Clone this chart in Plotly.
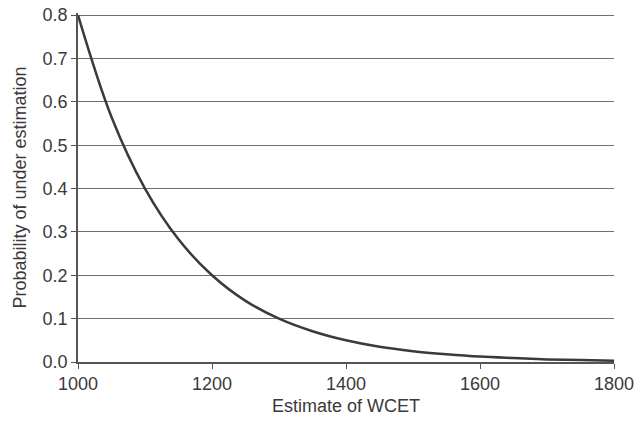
import plotly.graph_objects as go

wcet = [1000, 1050, 1100, 1150, 1200, 1250, 1300, 1350, 1400, 1450, 1500,
        1550, 1600, 1650, 1700, 1750, 1800]
prob = [0.8, 0.565, 0.4, 0.283, 0.2, 0.141, 0.1, 0.071, 0.05, 0.035, 0.025,
        0.018, 0.0125, 0.009, 0.006, 0.0045, 0.003]

x_ticks = [1000, 1200, 1400, 1600, 1800]
y_ticks = [0.0, 0.1, 0.2, 0.3, 0.4, 0.5, 0.6, 0.7, 0.8]

fig = go.Figure()
fig.add_trace(go.Scatter(x=wcet, y=prob, mode="lines",
                         line=dict(color="#3a3a3a", width=2.5, shape="spline"),
                         showlegend=False, cliponaxis=False))

font = dict(family="Liberation Sans, Arial, sans-serif", size=18, color="#3a3a3a")
fig.update_layout(
    width=644, height=427,
    margin=dict(l=78, r=30, t=13, b=65, autoexpand=False),
    paper_bgcolor="white", plot_bgcolor="white",
    font=font,
    xaxis=dict(range=[1000, 1800], tickvals=x_ticks, showgrid=False,
               showline=True, linecolor="#555555", linewidth=1.5,
               ticks="outside", ticklen=5, tickcolor="#555555",
               title=dict(text="Estimate of WCET", font=font, standoff=6),
               zeroline=False, automargin=False),
    yaxis=dict(range=[0, 0.805], tickvals=y_ticks, tickformat=".1f",
               showgrid=True, gridcolor="#707070", gridwidth=1,
               showline=True, linecolor="#555555", linewidth=1.5,
               ticks="outside", ticklen=5, tickcolor="#555555",
               title=dict(text="Probability of under estimation", font=font, standoff=11),
               zeroline=False, automargin=False),
)
fig.write_html("out.html", config={"displayModeBar": False},
               post_script="document.body.style.margin='0';")
